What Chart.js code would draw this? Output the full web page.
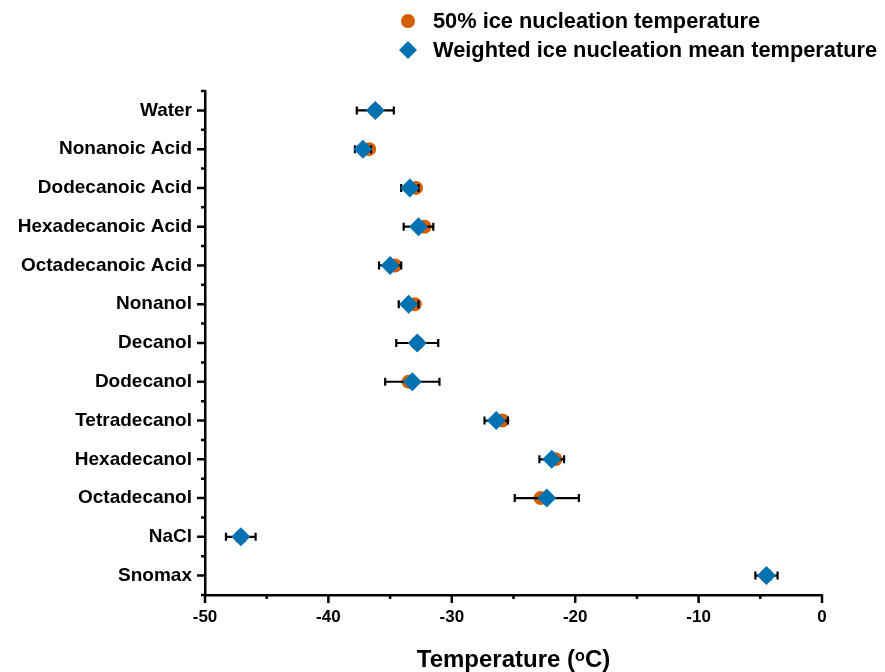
<!DOCTYPE html>
<html>
<head>
<meta charset="utf-8">
<script src="https://cdn.jsdelivr.net/npm/chart.js@4/dist/chart.umd.min.js"></script>
<style>
  html, body { margin: 0; padding: 0; background: #fff; }
  #wrap { width: 885px; height: 672px; position: relative; }
</style>
</head>
<body>
<div id="wrap"><canvas id="chart"></canvas></div>
<script>
const categories = ['Water', 'Nonanoic Acid', 'Dodecanoic Acid', 'Hexadecanoic Acid', 'Octadecanoic Acid',
  'Nonanol', 'Decanol', 'Dodecanol', 'Tetradecanol', 'Hexadecanol', 'Octadecanol', 'NaCl', 'Snomax'];
const temp50 = [-36.2, -36.7, -32.9, -32.2, -34.6, -33.0, -32.8, -33.5, -25.9, -21.6, -22.8, -47.1, -4.5];
const tempWeighted = [-36.2, -37.2, -33.4, -32.7, -35.0, -33.5, -32.8, -33.2, -26.4, -21.9, -22.3, -47.1, -4.5];
const tempErr = [1.5, 0.65, 0.7, 1.2, 0.9, 0.8, 1.7, 2.2, 0.95, 1.0, 2.6, 1.2, 0.9];
const xTicks = [-50, -40, -30, -20, -10, 0];
const seriesNames = ['50% ice nucleation temperature', 'Weighted ice nucleation mean temperature'];

const ORANGE = '#D55E00';
const BLUE = '#0072B2';
const FONT = 'Arial, "Liberation Sans", sans-serif';

// error bars, tick marks and the legend
const extras = {
    id: 'extras',
    beforeDatasetDraw(chart, args) {
        if (args.index !== 1) return;
        const xs = chart.scales.x, ys = chart.scales.y, ctx = chart.ctx;
        ctx.save();
        ctx.strokeStyle = '#000';
        ctx.lineWidth = 2.2;
        tempWeighted.forEach((v, i) => {
            const y = ys.getPixelForValue(i);
            const x1 = xs.getPixelForValue(v - tempErr[i]);
            const x2 = xs.getPixelForValue(v + tempErr[i]);
            ctx.beginPath();
            ctx.moveTo(x1, y); ctx.lineTo(x2, y);
            ctx.moveTo(x1, y - 4); ctx.lineTo(x1, y + 4);
            ctx.moveTo(x2, y - 4); ctx.lineTo(x2, y + 4);
            ctx.stroke();
        });
        ctx.restore();
    },
    afterDraw(chart) {
        const xs = chart.scales.x, ys = chart.scales.y, ctx = chart.ctx;
        const area = chart.chartArea;
        ctx.save();
        ctx.strokeStyle = '#000';
        ctx.lineWidth = 2.5;
        ctx.beginPath();
        for (let v = -50; v <= 0; v += 5) {
            const x = xs.getPixelForValue(v);
            const len = v % 10 === 0 ? 8 : 4;
            ctx.moveTo(x, area.bottom); ctx.lineTo(x, area.bottom + len);
        }
        for (let v = -0.5; v <= categories.length - 0.5; v += 0.5) {
            const y = ys.getPixelForValue(v);
            const len = Number.isInteger(v) ? 8 : 4;
            ctx.moveTo(area.left, y); ctx.lineTo(area.left - len, y);
        }
        ctx.stroke();

        // legend
        ctx.fillStyle = ORANGE;
        ctx.beginPath();
        ctx.arc(408, 21, 7, 0, Math.PI * 2);
        ctx.fill();
        ctx.fillStyle = BLUE;
        ctx.beginPath();
        ctx.moveTo(408, 41); ctx.lineTo(417, 50); ctx.lineTo(408, 59); ctx.lineTo(399, 50);
        ctx.closePath();
        ctx.fill();
        ctx.fillStyle = '#000';
        ctx.font = 'bold 21.8px ' + FONT;
        ctx.textBaseline = 'middle';
        ctx.fillText(seriesNames[0], 433, 22);
        ctx.fillText(seriesNames[1], 433, 51);
        ctx.restore();
    }
};

new Chart(document.getElementById('chart'), {
    type: 'scatter',
    data: {
        datasets: [
            {
                label: seriesNames[0],
                data: temp50.map((v, i) => ({ x: v, y: i })),
                backgroundColor: ORANGE,
                borderColor: ORANGE,
                pointStyle: 'circle',
                pointRadius: 7,
                borderWidth: 0,
                order: 2
            },
            {
                label: seriesNames[1],
                data: tempWeighted.map((v, i) => ({ x: v, y: i })),
                backgroundColor: BLUE,
                borderColor: BLUE,
                pointStyle: 'rectRot',
                pointRadius: 9.5,
                borderWidth: 0,
                order: 1
            }
        ]
    },
    plugins: [extras],
    options: {
        responsive: true,
        maintainAspectRatio: false,
        animation: false,
        layout: { padding: { top: 91, right: 63, bottom: 0, left: 0 } },
        plugins: { legend: { display: false }, tooltip: { enabled: false } },
        scales: {
            x: {
                type: 'linear',
                min: -50,
                max: 0,
                afterFit: s => { s.height = 77; },
                ticks: {
                    stepSize: 5,
                    autoSkip: false,
                    maxRotation: 0,
                    padding: 4,
                    color: '#000',
                    font: { family: FONT, size: 17, weight: 'bold' },
                    callback: v => xTicks.includes(v) ? String(v) : ''
                },
                grid: { color: 'transparent', drawOnChartArea: false, tickLength: 8 },
                border: { display: true, color: '#000', width: 2.5 },
                title: {
                    display: true,
                    text: 'Temperature (ᵒC)',
                    color: '#000',
                    font: { family: FONT, size: 24, weight: 'bold' },
                    padding: { top: 0, bottom: -3 }
                }
            },
            y: {
                type: 'linear',
                min: -0.5,
                max: categories.length - 0.5,
                reverse: true,
                afterFit: s => { s.width = 205; },
                afterBuildTicks: s => { s.ticks = categories.map((c, i) => ({ value: i })); },
                ticks: {
                    autoSkip: false,
                    padding: 5,
                    color: '#000',
                    font: { family: FONT, size: 19, weight: 'bold' },
                    callback: v => categories[v]
                },
                grid: { color: 'transparent', drawOnChartArea: false, tickLength: 8 },
                border: { display: true, color: '#000', width: 2.5 }
            }
        }
    }
});
</script>
</body>
</html>
